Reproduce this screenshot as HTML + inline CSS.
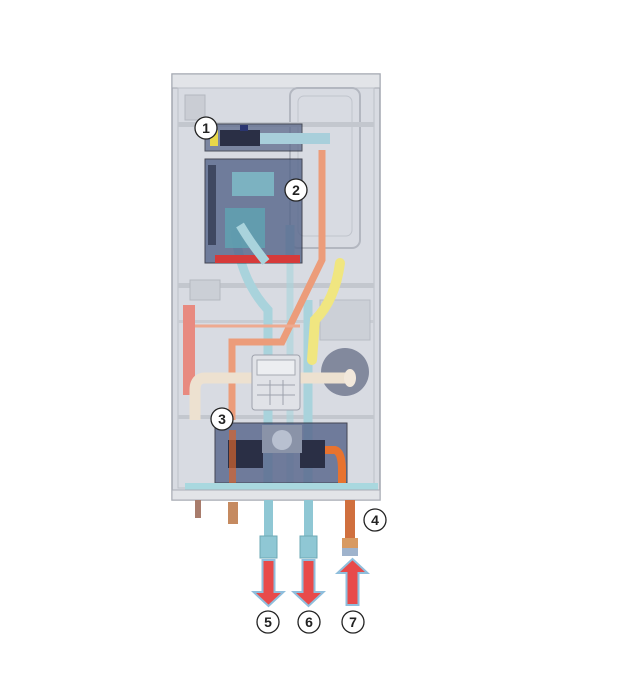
<!DOCTYPE html>
<html><head><style>html,body{margin:0;padding:0;background:#fff}svg{display:block}</style></head><body>
<svg width="629" height="697" viewBox="0 0 629 697" xmlns="http://www.w3.org/2000/svg" font-family="Liberation Sans, sans-serif">
<rect x="172" y="74" width="208" height="426" fill="#d8dbe2" stroke="#a3a7b0" stroke-width="1.5"/>
<rect x="172" y="74" width="208" height="14" fill="#e2e4e8" stroke="#a3a7b0"/>
<rect x="178" y="88" width="196" height="400" fill="none" stroke="#bcc0c8"/>
<rect x="290" y="88" width="70" height="160" rx="8" fill="none" stroke="#b3b7c0" stroke-width="2"/>
<rect x="298" y="96" width="54" height="140" rx="6" fill="none" stroke="#c0c4cc"/>
<rect x="178" y="122" width="196" height="5" fill="#c3c7ce"/>
<rect x="178" y="283" width="196" height="5" fill="#c3c7ce"/>
<rect x="178" y="320" width="196" height="3" fill="#c8ccd3"/>
<rect x="178" y="415" width="196" height="4" fill="#c3c7ce"/>
<rect x="320" y="300" width="50" height="40" fill="#ccd0d7" stroke="#b8bcc4"/>
<rect x="185" y="95" width="20" height="25" fill="#cacdd4" stroke="#b4b8c0"/>
<rect x="190" y="280" width="30" height="20" fill="#cbcfd6" stroke="#b4b8c0"/>
<rect x="183" y="305" width="12" height="90" fill="#e88a80"/>
<path d="M235 230 Q240 280 268 310 L268 500" fill="none" stroke="#a9d3dc" stroke-width="9"/>
<path d="M290 225 L290 260 M308 300 L308 500" fill="none" stroke="#a9d3dc" stroke-width="9"/>
<path d="M290 230 L290 500" fill="none" stroke="#a9d3dc" stroke-width="7" opacity="0.6"/>
<path d="M322 150 L322 260 L282 342 L232 342 L232 420" fill="none" stroke="#ec9c7a" stroke-width="7"/>
<path d="M195 326 L300 326" stroke="#eeaa90" stroke-width="3"/>
<path d="M340 263 Q335 300 315 320 L312 360" fill="none" stroke="#f0e680" stroke-width="10" stroke-linecap="round"/>
<circle cx="345" cy="372" r="24" fill="#4a5270" opacity="0.6"/>
<path d="M350 378 L205 378 Q195 378 195 390 L195 420" fill="none" stroke="#ede1d0" stroke-width="11"/>
<ellipse cx="350" cy="378" rx="6" ry="9" fill="#f2e8db"/>
<rect x="252" y="355" width="48" height="55" rx="3" fill="#e0e2e7" stroke="#9ea2ac"/>
<rect x="257" y="360" width="38" height="15" fill="#eceef1" stroke="#a6aab2"/>
<path d="M257 385h38M257 395h38M270 380v25M283 380v25" stroke="#9ea2ac"/>
<rect x="205" y="124" width="97" height="27" fill="#5d6a8c" opacity="0.75" stroke="#1e2230"/>
<rect x="210" y="130" width="8" height="16" fill="#e8d84a"/>
<rect x="220" y="130" width="40" height="16" fill="#2a2f45"/>
<rect x="240" y="125" width="8" height="6" fill="#2a3570"/>
<rect x="260" y="133" width="70" height="11" fill="#a8cfdb"/>
<rect x="205" y="159" width="97" height="104" fill="#55658a" opacity="0.8" stroke="#1e2230"/>
<rect x="215" y="255" width="85" height="8" fill="#d63a3a"/>
<rect x="232" y="172" width="42" height="24" fill="#7fbfcb" opacity="0.8"/>
<rect x="225" y="208" width="40" height="40" fill="#5fa4b3" opacity="0.8"/>
<path d="M240 225 Q252 245 266 262" fill="none" stroke="#a9d3dc" stroke-width="9"/>
<rect x="208" y="165" width="8" height="80" fill="#2b3248" opacity="0.7"/>
<rect x="215" y="423" width="132" height="60" fill="#56648a" opacity="0.8" stroke="#1e2230"/>
<rect x="228" y="440" width="35" height="28" fill="#2a2f45"/>
<rect x="300" y="440" width="25" height="28" fill="#2a2f45"/>
<rect x="262" y="425" width="40" height="28" fill="#8a93a8"/>
<circle cx="282" cy="440" r="10" fill="#b8c0d0"/>
<path d="M325 450 L335 450 Q342 452 342 470 L342 483" fill="none" stroke="#e8732f" stroke-width="8"/>
<rect x="229" y="430" width="7" height="53" fill="#d4642e" opacity="0.7"/>
<rect x="185" y="483" width="193" height="7" fill="#a9d8df"/>
<rect x="172" y="490" width="208" height="10" fill="#e2e4e8" stroke="#a9adb6"/>
<rect x="195" y="500" width="6" height="18" fill="#a87c6c"/>
<rect x="228" y="502" width="10" height="22" fill="#c58a60"/>
<rect x="264" y="500" width="9" height="40" fill="#8fc7d4"/>
<rect x="304" y="500" width="9" height="40" fill="#8fc7d4"/>
<rect x="345" y="500" width="10" height="40" fill="#d0703e"/>
<rect x="260" y="536" width="17" height="22" fill="#8fc7d4" stroke="#6ea8b5"/>
<rect x="300" y="536" width="17" height="22" fill="#8fc7d4" stroke="#6ea8b5"/>
<rect x="342" y="538" width="16" height="10" fill="#d89a62"/>
<rect x="342" y="548" width="16" height="8" fill="#9fb3cc"/>
<g stroke="#8fbedc" stroke-width="2">
<path d="M262.5 560h12v32h9l-15 14-15-14h9z" fill="#e84a4a"/>
<path d="M302.5 560h12v32h9l-15 14-15-14h9z" fill="#e84a4a"/>
<path d="M346.5 605h12v-32h9l-15-14-15 14h9z" fill="#e84a4a"/>
</g>
<g fill="#fff" stroke="#222" stroke-width="1.3">
<circle cx="206" cy="128" r="11"/><circle cx="296" cy="190" r="11"/><circle cx="222" cy="419" r="11"/>
<circle cx="375" cy="520" r="11"/><circle cx="268" cy="622" r="11"/><circle cx="309" cy="622" r="11"/><circle cx="353" cy="622" r="11"/>
</g>
<g font-size="14" font-weight="bold" text-anchor="middle" fill="#222">
<text x="206" y="133">1</text><text x="296" y="195">2</text><text x="222" y="424">3</text>
<text x="375" y="525">4</text><text x="268" y="627">5</text><text x="309" y="627">6</text><text x="353" y="627">7</text>
</g>
</svg>
</body></html>
